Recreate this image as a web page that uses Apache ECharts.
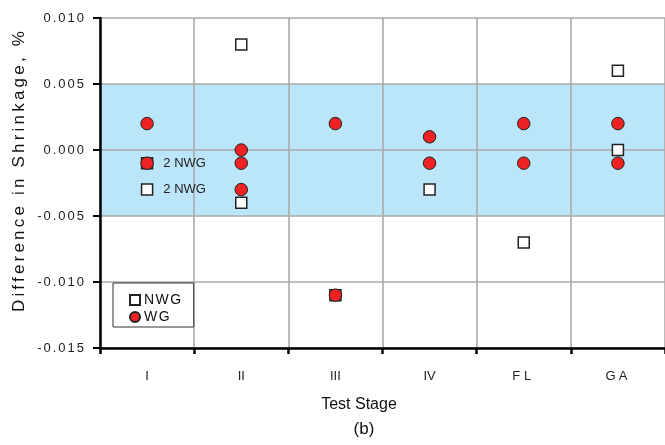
<!DOCTYPE html>
<html><head><meta charset="utf-8">
<script src="https://cdn.jsdelivr.net/npm/echarts@6/dist/echarts.min.js"></script>
<style>html,body{margin:0;padding:0;background:#fff}#c{width:665px;height:445px}</style>
</head><body><div id="c"></div>
<script>
var categories = ['I','II','III','IV','FL','GA'];
var yTicks = [-0.015,-0.010,-0.005,0.000,0.005,0.010];
// [category index, value]
var nwgPoints = [[0,-0.001],[0,-0.003],[1,0.008],[1,-0.004],[2,-0.011],[3,-0.003],[4,-0.007],[5,0.006],[5,0.000]];
var wgPoints = [[0,0.002],[0,-0.001],[1,0.000],[1,-0.001],[1,-0.003],[2,0.002],[2,-0.011],[3,0.001],[3,-0.001],[4,0.002],[4,-0.001],[5,0.002],[5,-0.001]];
var labelledNwg = {'0,-0.001':'2 NWG','0,-0.003':'2 NWG'};
var bandRange = [-0.005, 0.005];
var yTitle = 'Difference in Shrinkage, %';
var xTitle = 'Test Stage';
var panelTag = '(b)';

// letter spacing styling (canvas letterSpacing) per text
var spacingMap = {'Difference in Shrinkage, %':3.2,'NWG':1.5,'WG':1.5,'FL':4,'GA':3};
function spacingFor(t){
  if (typeof t !== 'string') return 0;
  if (spacingMap[t] != null) return spacingMap[t];
  if (/^-?0\.\d{3}$/.test(t)) return 2;
  return 0;
}
(function(){
  var P = CanvasRenderingContext2D.prototype;
  if (!('letterSpacing' in P)) return;
  var of = P.fillText, os = P.strokeText, om = P.measureText;
  function wrap(fn){ return function(t){
    this.letterSpacing = spacingFor(t) + 'px';
    var r = fn.apply(this, arguments);
    this.letterSpacing = '0px';
    return r; }; }
  P.fillText = wrap(of); P.strokeText = wrap(os); P.measureText = wrap(om);
})();

var font = 'Liberation Sans, Arial, sans-serif';
var chart = echarts.init(document.getElementById('c'));
chart.setOption({
  animation:false,
  grid:{left:100,right:-1,top:18,bottom:97},
  legend:{
    orient:'vertical', left:113, top:283,
    data:[{name:'NWG',icon:'rect'},{name:'WG',icon:'circle'}],
    itemWidth:10,itemHeight:10,itemGap:3,
    padding:[10,11,3,16],
    borderColor:'#333',borderWidth:1,backgroundColor:'#fff',
    textStyle:{fontFamily:font,fontSize:14,color:'#111',padding:[0,0,0,-1]}
  },
  xAxis:{
    type:'category', data:categories, boundaryGap:true, z:3,
    axisLine:{onZero:false,lineStyle:{color:'#000',width:2.5}},
    axisTick:{show:true,length:6,lineStyle:{color:'#000',width:2.5},alignWithLabel:false},
    axisLabel:{fontFamily:font,fontSize:13,color:'#222',margin:22},
    splitLine:{show:true,lineStyle:{color:'#aaa',width:1.6}}
  },
  yAxis:{
    type:'value', min:yTicks[0], max:yTicks[yTicks.length-1], interval:0.005, z:3,
    axisLine:{show:true,lineStyle:{color:'#000',width:2.5}},
    axisTick:{show:true,length:7,lineStyle:{color:'#000',width:2}},
    axisLabel:{fontFamily:font,fontSize:13,color:'#222',margin:14,
      formatter:function(v){return v.toFixed(3);}},
    splitLine:{show:true,lineStyle:{color:'#aaa',width:1.6}}
  },
  series:[
    {
      name:'band', type:'scatter', data:[], z:1, silent:true,
      markArea:{silent:true,itemStyle:{color:'#BBE5F8',opacity:1},
        data:[[{yAxis:bandRange[0]},{yAxis:bandRange[1]}]]}
    },
    {
      name:'NWG', type:'scatter', symbol:'rect', symbolSize:11, z:4,
      itemStyle:{color:'#fff',borderColor:'#222',borderWidth:1.5,opacity:1},
      data:nwgPoints.map(function(p){
        var key = p[0]+','+p[1].toFixed(3);
        var lab = labelledNwg[key];
        var d = {value:p};
        if(lab){d.label={show:true,position:'right',distance:10,formatter:lab,
          fontFamily:font,fontSize:13,color:'#222'};}
        return d;
      })
    },
    {
      name:'WG', type:'scatter', symbol:'circle', symbolSize:12.5, z:5,
      itemStyle:{color:'#EE2222',borderColor:'#222',borderWidth:1,opacity:1},
      data:wgPoints
    }
  ],
  graphic:[
    {type:'text',x:359,y:397,style:{text:xTitle,font:'16px '+font,fill:'#111',textAlign:'center',textVerticalAlign:'top'}},
    {type:'text',x:364,y:421,style:{text:panelTag,font:'17px '+font,fill:'#111',textAlign:'center',textVerticalAlign:'top'}},
    {type:'text',x:19,y:170,rotation:Math.PI/2,style:{text:yTitle,font:'17px '+font,fill:'#111',textAlign:'center',textVerticalAlign:'middle'}}
  ]
});
</script></body></html>
